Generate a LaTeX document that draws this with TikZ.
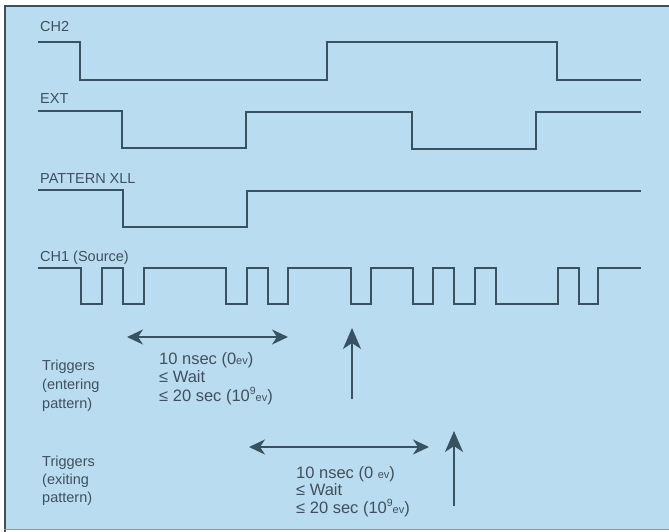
\documentclass[tikz,border=0pt]{standalone}
\usepackage{fontspec}
\setmainfont{Liberation Sans}
\usetikzlibrary{arrows.meta}
\definecolor{bgblue}{RGB}{186,220,240}
\definecolor{wavec}{RGB}{56,82,98}
\definecolor{txtc}{RGB}{64,80,92}
\definecolor{edgec}{RGB}{70,78,84}
\newcommand{\evsmall}{{\fontsize{11}{11}\selectfont ev}}
\newcommand{\tenninev}{10\raisebox{6.5pt}{\fontsize{10.5}{10.5}\selectfont 9}\evsmall}
\begin{document}
\begin{tikzpicture}[x=1pt,y=-1pt,
  wave/.style={draw=wavec, line width=1.9pt, line join=miter, line cap=butt},
  lab/.style={anchor=base west, inner sep=0pt, text=txtc, font=\fontsize{14.5}{14.5}\selectfont},
  trig/.style={anchor=base west, inner sep=0pt, text=txtc, font=\fontsize{14.5}{14.5}\selectfont},
  ann/.style={anchor=base west, inner sep=0pt, text=txtc, font=\fontsize{16.5}{16.5}\selectfont},
  darr/.style={draw=wavec, line width=2.2pt,
    {Stealth[length=16pt,width=15pt,inset=5pt]}-{Stealth[length=16pt,width=15pt,inset=5pt]}},
  uarr/.style={draw=wavec, line width=2.2pt,
    -{Stealth[length=21pt,width=18pt,inset=6pt]}}]
\useasboundingbox (0,0) rectangle (669,532);
\fill[white] (0,0) rectangle (669,532);
\fill[bgblue] (4,6) rectangle (669,529);
\draw[edgec, line width=1.6pt] (4.8,532) -- (4.8,6) -- (669,6);
\draw[edgec!60, line width=1.2pt] (4,529.5) -- (669,529.5);
% labels
\node[lab] (lch2) at (40,32) {CH2};
\node[lab] (lext) at (40,104) {EXT};
\node[lab] (lpat) at (40,183) {PATTERN XLL};
\node[lab] (lch1) at (40,261) {CH1 (Source)};
% waveforms
\draw[wave] (38,42) -- (80,42) -- (80,80) -- (327,80) -- (327,42) -- (557,42) -- (557,80) -- (641,80);
\draw[wave] (38,111) -- (122,111) -- (122,148) -- (246,148) -- (246,112) -- (412,112) -- (412,149) -- (536,149) -- (536,112) -- (641,112);
\draw[wave] (38,190) -- (123,190) -- (123,227) -- (247,227) -- (247,191) -- (641,191);
\draw[wave] (38,268)
  -- (81,268) -- (81,304) -- (102,304) -- (102,268)
  -- (123,268) -- (123,304) -- (144,304) -- (144,268)
  -- (226,268) -- (226,304) -- (247,304) -- (247,268)
  -- (268,268) -- (268,304) -- (288,304) -- (288,268)
  -- (351,268) -- (351,304) -- (371,304) -- (371,268)
  -- (413,268) -- (413,304) -- (433,304) -- (433,268)
  -- (454,268) -- (454,304) -- (475,304) -- (475,268)
  -- (496,268) -- (496,304) -- (558,304) -- (558,268)
  -- (579,268) -- (579,304) -- (598,304) -- (598,268)
  -- (641,268);
% arrows
\coordinate (a1l) at (127,337);
\coordinate (a1r) at (288,337);
\coordinate (a2l) at (249,447);
\coordinate (a2r) at (429,447);
\coordinate (u1b) at (352,399);
\coordinate (u1t) at (352,328);
\coordinate (u2b) at (454,506);
\coordinate (u2t) at (454,431);
\draw[darr] (a1l) -- (a1r);
\draw[darr] (a2l) -- (a2r);
\draw[uarr] (u1b) -- (u1t);
\draw[uarr] (u2b) -- (u2t);
% trigger texts
\node[trig] (te1) at (42,370) {Triggers};
\node[trig] (te2) at (42,389) {(entering};
\node[trig] (te3) at (42,408) {pattern)};
\node[trig] (tx1) at (42,466) {Triggers};
\node[trig] (tx2) at (42,484) {(exiting};
\node[trig] (tx3) at (42,502) {pattern)};
% wait texts
\node[ann] (w1a) at (159,364) {10 nsec (0\evsmall)};
\node[ann] (w1b) at (159,382) {≤ Wait};
\node[ann] (w1c) at (159,401) {≤ 20 sec (\tenninev)};
\node[ann] (w2a) at (296,478) {10 nsec (0 \evsmall)};
\node[ann] (w2b) at (296,495) {≤ Wait};
\node[ann] (w2c) at (296,513) {≤ 20 sec (\tenninev)};
\end{tikzpicture}
\end{document}
